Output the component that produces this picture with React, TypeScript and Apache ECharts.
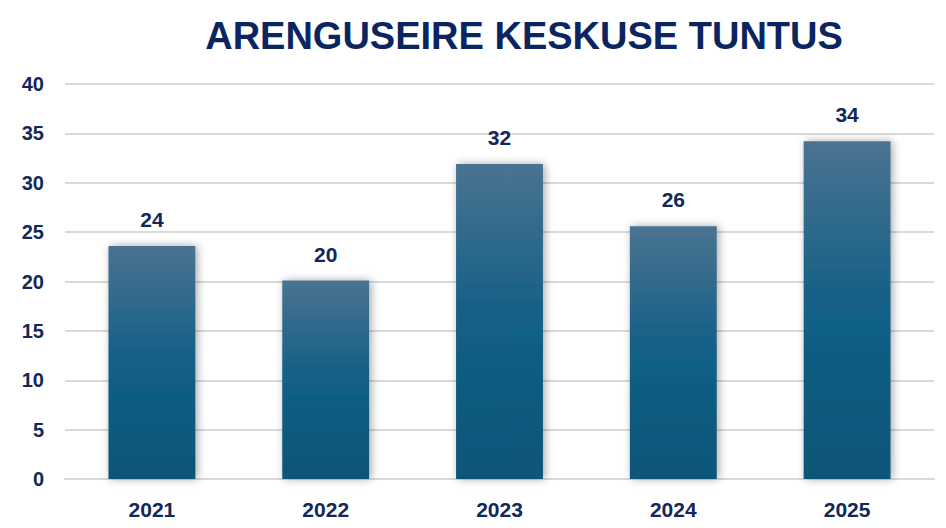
import React, { useEffect, useRef } from "react";
import * as echarts from "echarts";

const categories = ["2021", "2022", "2023", "2024", "2025"];
const values = [23.6, 20.1, 31.9, 25.6, 34.2];
const titleText = "ARENGUSEIRE KESKUSE TUNTUS";

export default function App() {
  const ref = useRef<HTMLDivElement>(null);
  useEffect(() => {
    const chart = echarts.init(ref.current!, null, { renderer: "svg" });
    const navy = "#12285a";
    const font = "'Liberation Sans', Arial, sans-serif";
    chart.setOption({
      animation: false,
      backgroundColor: "#ffffff",
      graphic: [
        {
          type: "text",
          x: 516,
          y: 9,
          style: {
            text: titleText,
            textAlign: "center",
            textVerticalAlign: "top",
            fontFamily: font,
            fontWeight: "bold",
            fontSize: 38,
            fill: "#0b2560",
          },
        },
      ],
      grid: { left: 57, right: 4, top: 76, bottom: 40 },
      xAxis: {
        type: "category",
        data: categories,
        axisLine: { lineStyle: { color: "#d9d9d9", width: 2 } },
        axisTick: { show: false },
        axisLabel: {
          color: navy,
          fontWeight: "bold",
          fontSize: 21,
          fontFamily: font,
          margin: 20,
        },
      },
      yAxis: {
        type: "value",
        min: 0,
        max: 40,
        interval: 5,
        axisLine: { show: false },
        axisTick: { show: false },
        splitLine: { lineStyle: { color: "#d9d9d9", width: 2 } },
        axisLabel: {
          color: navy,
          fontWeight: "bold",
          fontSize: 20,
          fontFamily: font,
          margin: 21,
        },
      },
      series: [
        {
          type: "bar",
          data: values,
          barWidth: "50%",
          itemStyle: {
            color: new echarts.graphic.LinearGradient(0, 0, 0, 1, [
              { offset: 0, color: "#4a7391" },
              { offset: 0.5, color: "#125f86" },
              { offset: 1, color: "#0e5677" },
            ]),
            shadowColor: "rgba(0,0,0,0.35)",
            shadowBlur: 8,
            shadowOffsetX: 2,
            shadowOffsetY: 0,
          },
          label: {
            show: true,
            position: "top",
            distance: 16,
            color: navy,
            fontWeight: "bold",
            fontSize: 21,
            fontFamily: font,
            formatter: (p: any) => String(Math.round(p.value)),
          },
        },
      ],
    });
    return () => chart.dispose();
  }, []);
  return <div ref={ref} style={{ width: 930, height: 512 }} />;
}
